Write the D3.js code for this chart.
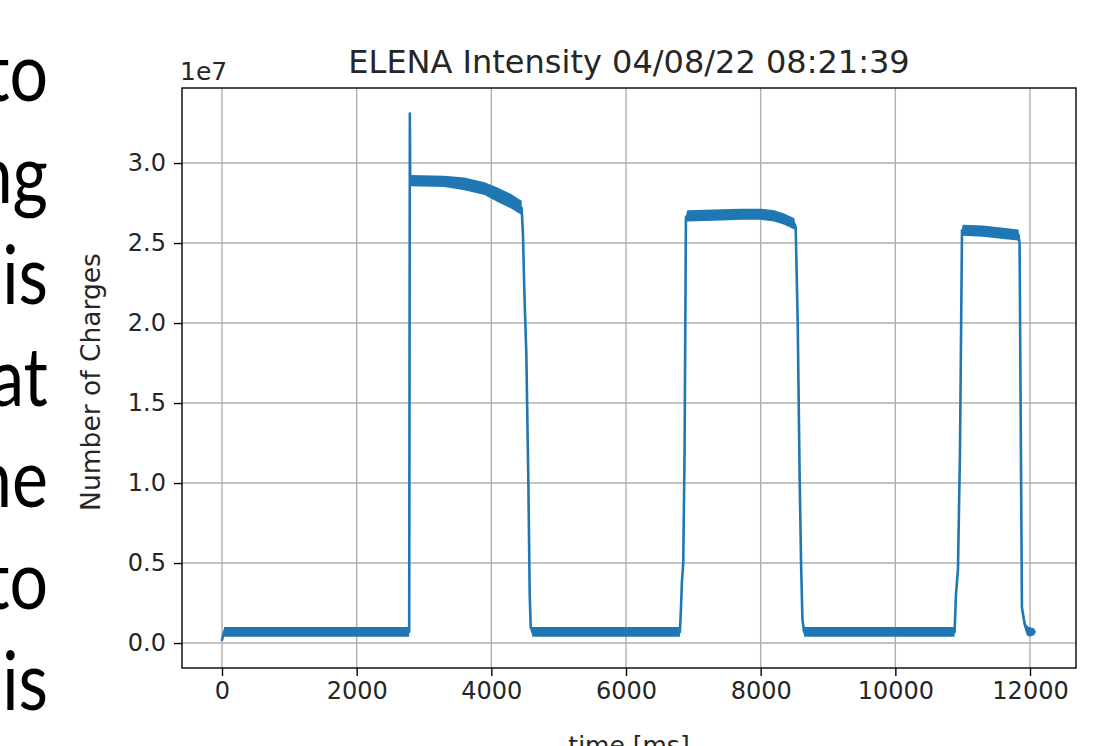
<!DOCTYPE html>
<html lang="en">
<head>
  <meta charset="UTF-8">
  <title>ELENA Intensity</title>
  <script src="https://d3js.org/d3.v7.min.js"></script>
  <style>
    html, body { margin: 0; padding: 0; background: #fff; }
    .slide-text { font-family: Lato, "Open Sans", sans-serif; font-size: 81px; fill: #000; }
    .tick text { font-family: "DejaVu Sans", sans-serif; font-size: 24px; fill: #262626; }
    .grid line { stroke: #b0b0b0; stroke-width: 1.4px; }
    .label { font-family: "DejaVu Sans", sans-serif; fill: #262626; }
  </style>
</head>
<body>
  <div id="container"></div>
  <script>
    // cut-off words of the slide text to the left of the chart
    const slideWords = ['to', 'ng', 'is', 'at', 'ne', 'to', 'is']

    // signal: time [ms], charges [1e7], noise half-width [1e7]
    const timeMs = [0, 30, 2780, 2790, 2795, 3300, 3600, 3900, 4100, 4300, 4450,
      4470, 4490, 4520, 4550, 4570, 4585, 4610,
      6800, 6815, 6830, 6850, 6870, 6890,
      6910, 7300, 7700, 8000, 8200, 8350, 8500,
      8520, 8550, 8580, 8600, 8620, 8645,
      10880, 10900, 10930, 10960, 10990,
      11000, 11300, 11600, 11830,
      11845, 11880, 11920, 11950, 11990, 12070]
    const charges = [0.02, 0.07, 0.07, 3.31, 2.89, 2.885, 2.87, 2.84, 2.80, 2.76, 2.72,
      2.55, 2.2, 1.8, 1.0, 0.3, 0.1, 0.07,
      0.07, 0.2, 0.38, 0.5, 1.2, 2.66,
      2.67, 2.675, 2.68, 2.68, 2.67, 2.65, 2.62,
      2.6, 2.0, 1.0, 0.5, 0.15, 0.07,
      0.07, 0.3, 0.46, 1.2, 2.58,
      2.58, 2.575, 2.56, 2.55,
      2.5, 0.22, 0.12, 0.08, 0.07, 0.07]
    const noise = [0, 0.03, 0.03, 0, 0.035, 0.035, 0.04, 0.04, 0.045, 0.045, 0.045,
      0, 0, 0, 0, 0, 0.01, 0.03,
      0.03, 0.01, 0.02, 0, 0, 0.01,
      0.035, 0.035, 0.035, 0.035, 0.035, 0.035, 0.035,
      0, 0, 0, 0, 0.01, 0.03,
      0.03, 0.02, 0.03, 0, 0.01,
      0.035, 0.035, 0.035, 0.035,
      0, 0.02, 0.02, 0.03, 0.03, 0.02]

    const xTicks = [0, 2000, 4000, 6000, 8000, 10000, 12000]
    const yTicks = [0, 0.5, 1.0, 1.5, 2.0, 2.5, 3.0]

    const data = timeMs.map((t, i) => ({t: t, v: charges[i], n: noise[i]}))

    const width = 1113
    const height = 746
    const plot = {left: 182, right: 1076, top: 88, bottom: 668}
    const blue = '#1f77b4'

    const svg = d3.select('#container').append('svg')
      .attr('width', width).attr('height', height)
      .style('display', 'block')

    svg.append('rect').attr('width', width).attr('height', height).attr('fill', '#fff')

    // slide text (the source screenshot is squeezed sideways a little)
    svg.selectAll('.slide-text').data(slideWords).enter().append('text')
      .attr('class', 'slide-text')
      .attr('transform', (d, i) => `translate(48,${101 + i * 101.5}) scale(0.84,1)`)
      .attr('text-anchor', 'end')
      .text(d => d)

    const x = d3.scaleLinear().domain([-594, 12683]).range([plot.left, plot.right])
    const y = d3.scaleLinear().domain([-0.156, 3.469]).range([plot.bottom, plot.top])

    // grid
    const grid = svg.append('g').attr('class', 'grid')
    grid.selectAll('.gx').data(xTicks).enter().append('line')
      .attr('x1', d => x(d)).attr('x2', d => x(d))
      .attr('y1', plot.top).attr('y2', plot.bottom)
    grid.selectAll('.gy').data(yTicks).enter().append('line')
      .attr('y1', d => y(d)).attr('y2', d => y(d))
      .attr('x1', plot.left).attr('x2', plot.right)

    svg.append('clipPath').attr('id', 'clip')
      .append('rect').attr('x', plot.left).attr('y', plot.top)
      .attr('width', plot.right - plot.left).attr('height', plot.bottom - plot.top)

    const body = svg.append('g').attr('clip-path', 'url(#clip)')

    // noise envelope
    const band = d3.area().x(d => x(d.t)).y0(d => y(d.v - d.n)).y1(d => y(d.v + d.n))
    body.append('path').datum(data)
      .attr('d', band).attr('fill', blue)

    const line = d3.line().x(d => x(d.t)).y(d => y(d.v))
    body.append('path').datum(data)
      .attr('d', line).attr('fill', 'none')
      .attr('stroke', blue).attr('stroke-width', 2.6)
      .attr('stroke-linejoin', 'round').attr('stroke-linecap', 'round')

    // axes
    const xAxis = d3.axisBottom(x).tickValues(xTicks).tickFormat(d3.format('d'))
      .tickSize(8).tickPadding(6)
    const yAxis = d3.axisLeft(y).tickValues(yTicks).tickFormat(d3.format('.1f'))
      .tickSize(8).tickPadding(8)

    const gx = svg.append('g').attr('transform', `translate(0,${plot.bottom})`).call(xAxis)
    const gy = svg.append('g').attr('transform', `translate(${plot.left},0)`).call(yAxis)
    ;[gx, gy].forEach(g => {
      g.select('.domain').remove()
      g.selectAll('.tick line').attr('stroke', '#000').attr('stroke-width', 1.4)
    })

    svg.append('rect')
      .attr('x', plot.left).attr('y', plot.top)
      .attr('width', plot.right - plot.left).attr('height', plot.bottom - plot.top)
      .attr('fill', 'none').attr('stroke', '#000').attr('stroke-width', 1.4)

    // labels
    svg.append('text').attr('class', 'label')
      .attr('x', (plot.left + plot.right) / 2).attr('y', 73)
      .attr('text-anchor', 'middle').style('font-size', '32px')
      .text('ELENA Intensity 04/08/22 08:21:39')

    svg.append('text').attr('class', 'label')
      .attr('x', plot.left - 2).attr('y', 80)
      .style('font-size', '25px')
      .text('1e7')

    svg.append('text').attr('class', 'label')
      .attr('transform', `translate(100,${(plot.top + plot.bottom) / 2 + 4}) rotate(-90)`)
      .attr('text-anchor', 'middle').style('font-size', '26.5px')
      .text('Number of Charges')

    svg.append('text').attr('class', 'label')
      .attr('x', (plot.left + plot.right) / 2).attr('y', 754)
      .attr('text-anchor', 'middle').style('font-size', '25px')
      .text('time [ms]')
  </script>
</body>
</html>
